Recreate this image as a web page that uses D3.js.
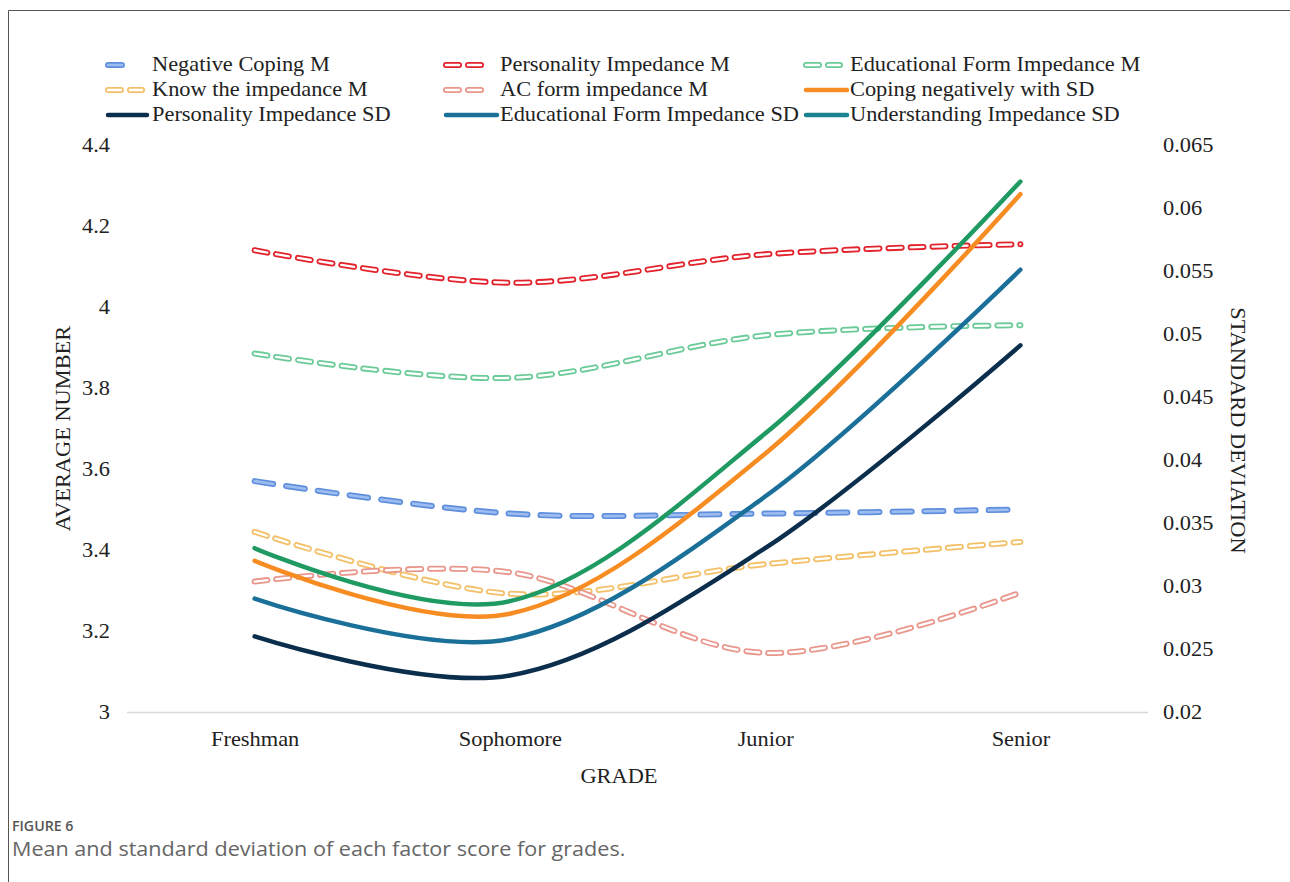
<!DOCTYPE html>
<html>
<head>
<meta charset="utf-8">
<script src="https://cdn.jsdelivr.net/npm/d3@7"></script>
<style>
  body { margin: 0; background: #fff; }
  text { font-family: "Liberation Serif", "Times New Roman", serif; fill: #222; }
  .cap { font-family: "Open Sans", "Noto Sans", sans-serif; }
</style>
</head>
<body>
<script>
// values
const grades = ["Freshman", "Sophomore", "Junior", "Senior"];
const meanTicks = [3, 3.2, 3.4, 3.6, 3.8, 4, 4.2, 4.4];
const sdTicks = [0.02, 0.025, 0.03, 0.035, 0.04, 0.045, 0.05, 0.055, 0.06, 0.065];

const negCopingM = [3.57, 3.49, 3.49, 3.50];
const personalityM = [4.14, 4.06, 4.13, 4.155];
const eduFormM = [3.885, 3.825, 3.93, 3.955];
const knowM = [3.445, 3.292, 3.365, 3.42];
const acFormM = [3.322, 3.345, 3.146, 3.295];

const copingSD = [0.032, 0.0278, 0.0405, 0.0611];
const personalitySD = [0.026, 0.0229, 0.033, 0.0491];
const eduFormSD = [0.029, 0.0258, 0.0371, 0.0551];
const understandingSD = [0.033, 0.0288, 0.0421, 0.0621];

const svgWidth = 1290, svgHeight = 882;
const plot = { left: 127, right: 1148, top: 145, bottom: 712 };
// the source figure is a little wider than it is tall
const stretch = "scale(1.12,1)";

const svg = d3.select("body").append("svg")
    .attr("width", svgWidth)
    .attr("height", svgHeight);

// frame (left and top edges only)
svg.append("path")
    .attr("d", `M8.5,${svgHeight} V10.5 H${svgWidth}`)
    .attr("fill", "none")
    .attr("stroke", "#555")
    .attr("stroke-width", 1);

const x = d3.scalePoint().domain(grades).range([plot.left, plot.right]).padding(0.5);
const yMean = d3.scaleLinear().domain([3, 4.4]).range([plot.bottom, plot.top]);
const ySD = d3.scaleLinear().domain([0.02, 0.065]).range([plot.bottom, plot.top]);

function styleTicks(g) {
    g.selectAll("text")
        .attr("font-size", 20)
        .attr("font-family", "Liberation Serif")
        .attr("fill", "#222")
        .attr("transform", stretch);
}

// axes
const leftAxis = d3.axisLeft(yMean).tickValues(meanTicks).tickSize(0).tickPadding(0)
    .tickFormat(d => d3.format("~g")(d));
svg.append("g")
    .attr("transform", "translate(110,0)")
    .call(leftAxis)
    .call(g => g.select(".domain").remove())
    .call(styleTicks);

const rightAxis = d3.axisRight(ySD).tickValues(sdTicks).tickSize(0).tickPadding(0)
    .tickFormat(d => d3.format("~g")(d));
svg.append("g")
    .attr("transform", "translate(1163,0)")
    .call(rightAxis)
    .call(g => g.select(".domain").remove())
    .call(styleTicks);

const bottomAxis = d3.axisBottom(x).tickSize(0).tickPadding(20);
svg.append("g")
    .attr("transform", `translate(0,${plot.bottom})`)
    .call(bottomAxis)
    .call(g => g.select(".domain")
        .attr("d", `M${plot.left},0.5H${plot.right}`)
        .attr("stroke", "#d9d9d9").attr("stroke-width", 1.5))
    .call(styleTicks);

// axis titles
svg.append("text")
    .attr("transform", `translate(70,${(plot.top + plot.bottom) / 2}) rotate(-90) ${stretch}`)
    .attr("text-anchor", "middle")
    .attr("font-size", 20)
    .text("AVERAGE NUMBER");

svg.append("text")
    .attr("transform", `translate(1231,${(plot.top + plot.bottom) / 2 + 2}) rotate(90) ${stretch}`)
    .attr("text-anchor", "middle")
    .attr("font-size", 20)
    .text("STANDARD DEVIATION");

svg.append("text")
    .attr("transform", `translate(619,783) ${stretch}`)
    .attr("text-anchor", "middle")
    .attr("font-size", 20)
    .text("GRADE");

// series
const series = [
    { name: "Negative Coping M", values: negCopingM, axis: "m", type: "filled", color: "#5f8fdc", fill: "#9dbdf0" },
    { name: "Personality Impedance M", values: personalityM, axis: "m", type: "hollow", color: "#e3222c" },
    { name: "Educational Form Impedance M", values: eduFormM, axis: "m", type: "hollow", color: "#6acb98" },
    { name: "Know the impedance M", values: knowM, axis: "m", type: "hollow", color: "#f3c067" },
    { name: "AC form impedance M", values: acFormM, axis: "m", type: "hollow", color: "#e9978c" },
    { name: "Coping negatively with SD", values: copingSD, axis: "sd", type: "solid", color: "#f78d22" },
    { name: "Personality Impedance SD", values: personalitySD, axis: "sd", type: "solid", color: "#0b2e4c" },
    { name: "Educational Form Impedance SD", values: eduFormSD, axis: "sd", type: "solid", color: "#1b7099" },
    { name: "Understanding Impedance SD", values: understandingSD, axis: "sd", type: "solid", color: "#1f9a62", legendColor: "#1a8290" }
];

function drawStroke(sel, s) {
    if (s.type === "solid") {
        sel.append("path").attr("stroke", s.color).attr("stroke-width", 4.5)
            .attr("stroke-linecap", "round");
    } else if (s.type === "hollow") {
        sel.append("path").attr("stroke", s.color).attr("stroke-width", 6)
            .attr("stroke-dasharray", "13 9").attr("stroke-linecap", "round");
        sel.append("path").attr("stroke", "#fff").attr("stroke-width", 2.4)
            .attr("stroke-dasharray", "13 9").attr("stroke-linecap", "round");
    } else {
        sel.append("path").attr("stroke", s.color).attr("stroke-width", 6)
            .attr("stroke-dasharray", "19 13").attr("stroke-linecap", "round");
        sel.append("path").attr("stroke", s.fill).attr("stroke-width", 2.6)
            .attr("stroke-dasharray", "19 13").attr("stroke-linecap", "round");
    }
    sel.selectAll("path").attr("fill", "none");
}

const line = d3.line().curve(d3.curveCardinal.tension(0));

const lines = svg.append("g");
series.forEach(s => {
    const yScale = s.axis === "m" ? yMean : ySD;
    const pts = s.values.map((v, i) => [x(grades[i]), yScale(v)]);
    const g = lines.append("g");
    drawStroke(g, s);
    g.selectAll("path").attr("d", line(pts));
});

// legend
const legendCols = [105, 443, 803];
const legendText = [152, 500, 850];
const legendRows = [65, 90, 115];
const legendLen = [
    [20, 48, 40],
    [40, 48, 47],
    [45, 57, 47]
];
series.forEach((s, i) => {
    const col = i % 3, row = Math.floor(i / 3);
    const lx = legendCols[col], ly = legendRows[row];
    const len = legendLen[row][col];
    const g = svg.append("g");
    drawStroke(g, Object.assign({}, s, { color: s.legendColor || s.color }));
    g.selectAll("path").attr("d", `M${lx + 3},${ly}H${lx + len - 3}`);
    svg.append("text")
        .attr("transform", `translate(${legendText[col]},${ly + 6}) ${stretch}`)
        .attr("font-size", 20)
        .text(s.name);
});

// caption
svg.append("text").attr("class", "cap")
    .attr("transform", "translate(12,831) scale(1.05,1)")
    .attr("font-size", 13.5)
    .attr("font-weight", 600)
    .style("fill", "#555")
    .text("FIGURE 6");

svg.append("text").attr("class", "cap")
    .attr("transform", "translate(12,856) scale(1.08,1)")
    .attr("font-size", 20)
    .style("fill", "#666")
    .text("Mean and standard deviation of each factor score for grades.");
</script>
</body>
</html>
